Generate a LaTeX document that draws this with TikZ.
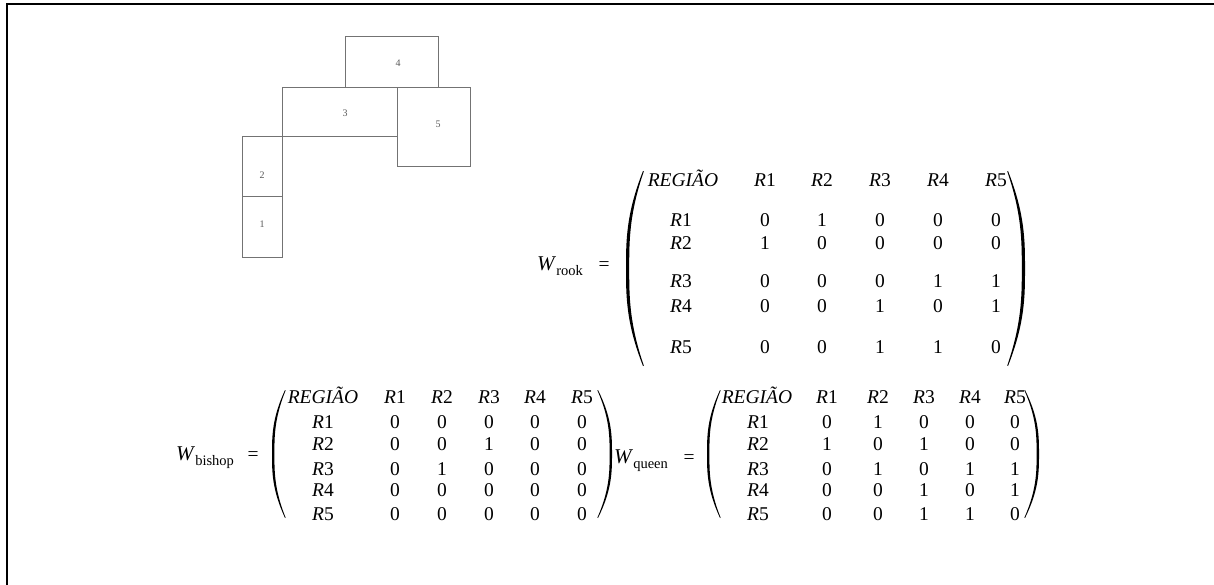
\documentclass[tikz,border=0pt]{standalone}
\usepackage{fontspec}
\setmainfont{Liberation Serif}
\begin{document}
% Tall parenthesis drawn as a filled crescent:
% #1 end x, #2 middle x, #3 top y, #4 bottom y, #5 signed stroke width
\newcommand\fencepath[5]{%
  \fill ({#1},{#3})
    .. controls ({#2},{#3+0.22*(#4-#3)}) and ({#2},{#3+0.36*(#4-#3)}) .. ({#2},{(#3+#4)/2})
    .. controls ({#2},{#4-0.36*(#4-#3)}) and ({#2},{#4-0.22*(#4-#3)}) .. ({#1},{#4})
    -- ({#1+0.25*#5},{#4-0.4})
    .. controls ({#2+#5},{#4-0.22*(#4-#3)}) and ({#2+#5},{#4-0.36*(#4-#3)}) .. ({#2+#5},{(#3+#4)/2})
    .. controls ({#2+#5},{#3+0.36*(#4-#3)}) and ({#2+#5},{#3+0.22*(#4-#3)}) .. ({#1+0.25*#5},{#3+0.4})
    -- cycle;}
% weight matrix name with an upright subscript
\newcommand\wname[1]{{\fontsize{21}{22}\selectfont\textit{W}}\raisebox{-5pt}{\fontsize{14.5}{15}\selectfont #1}}
\newcommand\reg[1]{\textit{R}#1}
\begin{tikzpicture}[x=1pt,y=-1pt,
  mat/.style={font=\fontsize{19.5}{22}\selectfont, anchor=base, inner sep=0pt},
  region/.style={draw=black!55, line width=0.8pt},
  rlabel/.style={font=\fontsize{10}{11}\selectfont, text=black!65, inner sep=0pt},
  frame/.style={draw=black, line width=2pt}]
\useasboundingbox (0,0) rectangle (1214,585);

% page frame
\draw[frame] (6,4) -- (1214,4);
\draw[frame, line width=1.5pt] (7,4) -- (7,585);

% region map
\draw[region] (345,36) rectangle (438,87);
\draw[region] (282,87) rectangle (397,136);
\draw[region] (397,87) rectangle (470,166);
\draw[region] (242,136) rectangle (282,196);
\draw[region] (242,196) rectangle (282,257);
\node[rlabel] (lab4) at (398,63) {4};
\node[rlabel] (lab3) at (345,113) {3};
\node[rlabel] (lab5) at (438,124) {5};
\node[rlabel] (lab2) at (262,175) {2};
\node[rlabel] (lab1) at (262,224) {1};

% ---------- W rook ----------
\node[mat, anchor=base west] (wrook) at (537,270) {\wname{rook}};
\node[mat] (eqrook) at (604,270) {=};
\fencepath{643}{626}{171}{366}{3.2}
\fencepath{1008}{1025}{171}{366}{-3.2}
\def\rkx{{765,822,880,938,996}}
\def\rky{{226,250,287,312,353}}
\node[mat] (rk-h0) at (683,187) {\textit{REGIÃO}};
\foreach \j in {1,...,5}{
  \pgfmathsetmacro\xx{\rkx[\j-1]}
  \node[mat] (rk-h\j) at (\xx,187) {\reg{\j}};
}
\foreach \row [count=\i] in {{0,1,0,0,0},{1,0,0,0,0},{0,0,0,1,1},{0,0,1,0,1},{0,0,1,1,0}}{
  \pgfmathsetmacro\yy{\rky[\i-1]}
  \node[mat] (rk-\i-0) at (681,\yy) {\reg{\i}};
  \foreach \v [count=\j] in \row {
    \pgfmathsetmacro\xx{\rkx[\j-1]}
    \node[mat] (rk-\i-\j) at (\xx,\yy) {\v};
  }
}

% ---------- W bishop ----------
\node[mat, anchor=base west] (wbish) at (176,460) {\wname{bishop}};
\node[mat] (eqbish) at (253,460) {=};
\fencepath{285}{272}{390}{518}{2.4}
\fencepath{598}{612}{390}{518}{-2.4}
\def\bsx{{395,442,489,535,582}}
\def\bsy{{428,450,475,496,520}}
\node[mat] (bs-h0) at (323,403) {\textit{REGIÃO}};
\foreach \j in {1,...,5}{
  \pgfmathsetmacro\xx{\bsx[\j-1]}
  \node[mat] (bs-h\j) at (\xx,403) {\reg{\j}};
}
\foreach \row [count=\i] in {{0,0,0,0,0},{0,0,1,0,0},{0,1,0,0,0},{0,0,0,0,0},{0,0,0,0,0}}{
  \pgfmathsetmacro\yy{\bsy[\i-1]}
  \node[mat] (bs-\i-0) at (323,\yy) {\reg{\i}};
  \foreach \v [count=\j] in \row {
    \pgfmathsetmacro\xx{\bsx[\j-1]}
    \node[mat] (bs-\i-\j) at (\xx,\yy) {\v};
  }
}

% ---------- W queen ----------
\node[mat, anchor=base west] (wqueen) at (614,463) {\wname{queen}};
\node[mat] (eqqueen) at (689,463) {=};
\fencepath{720}{707}{390}{518}{2.4}
\fencepath{1025}{1039}{390}{518}{-2.4}
\def\qnx{{827,878,924,970,1015}}
\node[mat] (qn-h0) at (757,403) {\textit{REGIÃO}};
\foreach \j in {1,...,5}{
  \pgfmathsetmacro\xx{\qnx[\j-1]}
  \node[mat] (qn-h\j) at (\xx,403) {\reg{\j}};
}
\foreach \row [count=\i] in {{0,1,0,0,0},{1,0,1,0,0},{0,1,0,1,1},{0,0,1,0,1},{0,0,1,1,0}}{
  \pgfmathsetmacro\yy{\bsy[\i-1]}
  \node[mat] (qn-\i-0) at (758,\yy) {\reg{\i}};
  \foreach \v [count=\j] in \row {
    \pgfmathsetmacro\xx{\qnx[\j-1]}
    \node[mat] (qn-\i-\j) at (\xx,\yy) {\v};
  }
}
\end{tikzpicture}
\end{document}
